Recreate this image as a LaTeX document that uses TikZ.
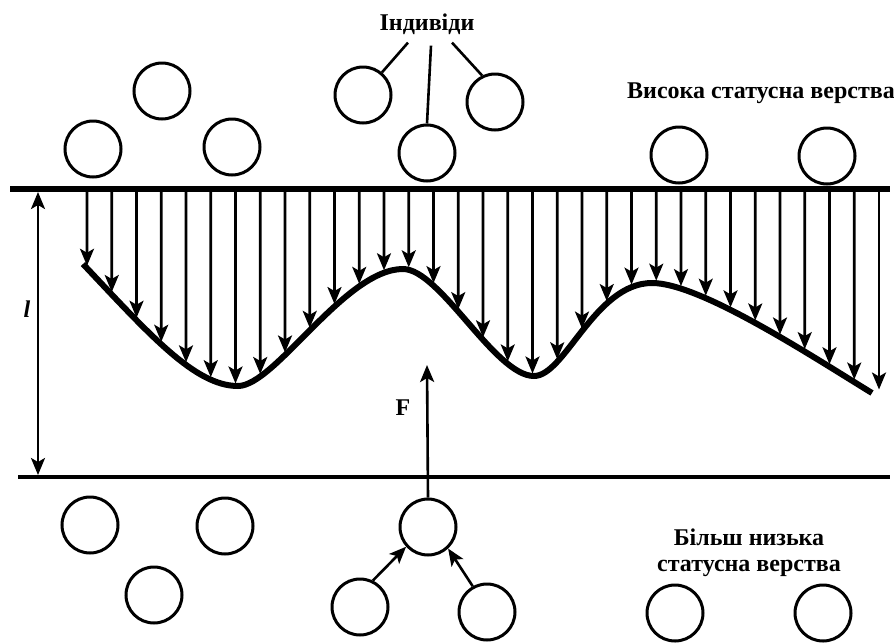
\documentclass[tikz,border=0pt]{standalone}
\usepackage{fontspec}
\setmainfont{Liberation Serif}
\usetikzlibrary{arrows.meta, intersections}

\begin{document}
\begin{tikzpicture}[x=1pt, y=-1pt,
		person/.style={circle, draw, line width=3pt, minimum size=56pt, inner sep=0pt},
		caption/.style={font=\fontsize{24}{26}\selectfont\bfseries, inner sep=0pt, align=center},
		tip/.style={-{Stealth[length=17pt, width=14pt, inset=4pt]}},
		down/.style={tip, line width=2.6pt, shorten >=2.5pt}]
	\useasboundingbox (0,0) rectangle (894,643);
	\node[person] (hi1) at (93,149) {};
	\node[person] (hi2) at (162,91) {};
	\node[person] (hi3) at (232,147) {};
	\node[person] (hi4) at (363,95) {};
	\node[person] (hi5) at (427,153) {};
	\node[person] (hi6) at (495,102) {};
	\node[person] (hi7) at (679,155) {};
	\node[person] (hi8) at (827,156) {};
	\node[person] (lo1) at (90,525) {};
	\node[person] (lo2) at (225,526) {};
	\node[person] (lo3) at (154,595) {};
	\node[person] (lo4) at (428,527) {};
	\node[person] (lo5) at (360,607) {};
	\node[person] (lo6) at (487,612) {};
	\node[person] (lo7) at (675,613) {};
	\node[person] (lo8) at (823,613) {};
	\node[caption] (indiv) at (427,24) {Індивіди};
	\node[caption] (high) at (761,93) {Висока статусна верства};
	\node[caption] (low) at (749,553) {Більш низька\\статусна верства};
	\node[caption] (force) at (403,408) {F};
	\node[caption, font=\fontsize{24}{26}\selectfont\bfseries\itshape] (len) at (27,309) {l};
	\coordinate (topL) at (10,189);
	\coordinate (topR) at (890,189);
	\coordinate (botL) at (18,477);
	\coordinate (botR) at (890,477);
	\coordinate (dimtop) at (38,192);
	\coordinate (dimbot) at (38,475);
	\coordinate (ftip) at (427,365);
	\draw[line width=6pt] (topL) -- (topR);
	\draw[line width=3.2pt] (botL) -- (botR);
	\draw[line width=2.6pt, {Stealth[length=17pt, width=14pt, inset=4pt]}-{Stealth[length=17pt, width=14pt, inset=4pt]}] (dimtop) -- (dimbot);
	\draw[line width=6pt, name path=wave] (83,264) .. controls (150,335) and (195,386) .. (238,386)
		.. controls (275,386) and (345,269) .. (403,269)
		.. controls (440,269) and (495,376) .. (534,376)
		.. controls (565,376) and (595,283) .. (652,283)
		.. controls (700,283) and (810,355) .. (872,393);
	\foreach \i in {0,...,31} {
		\path[name path=v\i] (87+24.75*\i,189) -- (87+24.75*\i,430);
		\draw[down, name intersections={of=wave and v\i}] (87+24.75*\i,189) -- (intersection-1);
	}
	\draw[down] (879,189) -- (879,392);
	\draw[line width=2.6pt] ([xshift=-19pt,yshift=-8pt]indiv.south) -- (hi4.50);
	\draw[line width=2.6pt] ([xshift=4pt,yshift=-11pt]indiv.south) -- (hi5.north);
	\draw[line width=2.6pt] ([xshift=25pt,yshift=-8pt]indiv.south) -- (hi6.116);
	\draw[tip, line width=2.6pt] (lo4.north) -- (ftip);
	\draw[tip, line width=2.6pt] (lo5.64) -- (lo4.222);
	\draw[tip, line width=2.6pt] (lo6.119) -- (lo4.313);
\end{tikzpicture}
\end{document}
